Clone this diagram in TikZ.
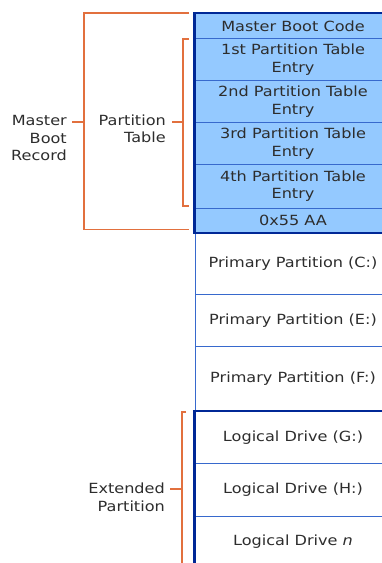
\documentclass[tikz,border=0pt]{standalone}
\usepackage{fontspec}
\setmainfont{DejaVu Sans}[FakeStretch=1.15]
\definecolor{cellfill}{RGB}{148,201,255}
\definecolor{darkline}{RGB}{0,40,150}
\definecolor{thinline}{RGB}{55,105,205}
\definecolor{brk}{RGB}{226,112,62}
\definecolor{txt}{RGB}{45,45,45}
\begin{document}
\begin{tikzpicture}[x=1pt,y=-1pt,
  every node/.style={font=\fontsize{14}{17.5}\selectfont, text=txt, inner sep=0pt},
  cellbox/.style={draw=thinline, line width=1pt, minimum width=196pt, anchor=north west, align=center},
  blue cell/.style={cellbox, fill=cellfill},
  thickb/.style={draw=darkline, line width=2.4pt},
  bracket/.style={draw=brk, line width=1.6pt},
  lbl/.style={anchor=east, align=right}
]
\useasboundingbox (0,0) rectangle (382,563);
\fill[white] (0,0) rectangle (382,563);
% MBR cells
\node[blue cell, minimum height=25pt] (mbc) at (194.5,13) {Master Boot Code};
\node[blue cell, minimum height=42pt] (e1) at (194.5,38) {1st Partition Table\\Entry};
\node[blue cell, minimum height=42pt] (e2) at (194.5,80) {2nd Partition Table\\Entry};
\node[blue cell, minimum height=42pt] (e3) at (194.5,122) {3rd Partition Table\\Entry};
\node[blue cell, minimum height=43.5pt] (e4) at (194.5,164) {4th Partition Table\\Entry};
\node[blue cell, minimum height=24.5pt] (aa) at (194.5,207.5) {0x55 AA};
% primary partitions
\node[cellbox, minimum height=62pt] (pc) at (194.5,232) {Primary Partition (C:)};
\node[cellbox, minimum height=52pt] (pe) at (194.5,294) {Primary Partition (E:)};
\node[cellbox, minimum height=65pt] (pf) at (194.5,346) {Primary Partition (F:)};
% logical drives
\node[cellbox, minimum height=52pt] (lg) at (194.5,411) {Logical Drive (G:)};
\node[cellbox, minimum height=53pt] (lh) at (194.5,463) {Logical Drive (H:)};
\node[cellbox, minimum height=51pt] (ln) at (194.5,516) {Logical Drive \textit{n}};
% thick outlines
\draw[thickb] (mbc.north east) -- (mbc.north west) -- (aa.south west) -- (aa.south east);
\draw[thickb] (lg.north east) -- (lg.north west) -- (ln.south west);
% labels
\node[lbl] (mbr) at (67,138) {Master\\Boot\\Record};
\node[lbl] (pt) at (166,129) {Partition\\Table};
\node[lbl] (ext) at (165,497.5) {Extended\\Partition};
% brackets
\coordinate (mbrT) at (189,13);
\coordinate (mbrB) at (189,229.5);
\coordinate (mbrM) at (84,122);
\draw[bracket] (mbrT) -- (84,13) -- (84,229.5) -- (mbrB);
\draw[bracket] (72,122) -- (mbrM);
\coordinate (ptT) at (189,39);
\coordinate (ptB) at (189,206);
\coordinate (ptM) at (183,122);
\draw[bracket] (ptT) -- (183,39) -- (183,206) -- (ptB);
\draw[bracket] (172,122) -- (ptM);
\coordinate (exT) at (186,412);
\coordinate (exM) at (182,489);
\draw[bracket] (exT) -- (182,412) -- (182,570);
\draw[bracket] (170,489) -- (exM);
\end{tikzpicture}
\end{document}
